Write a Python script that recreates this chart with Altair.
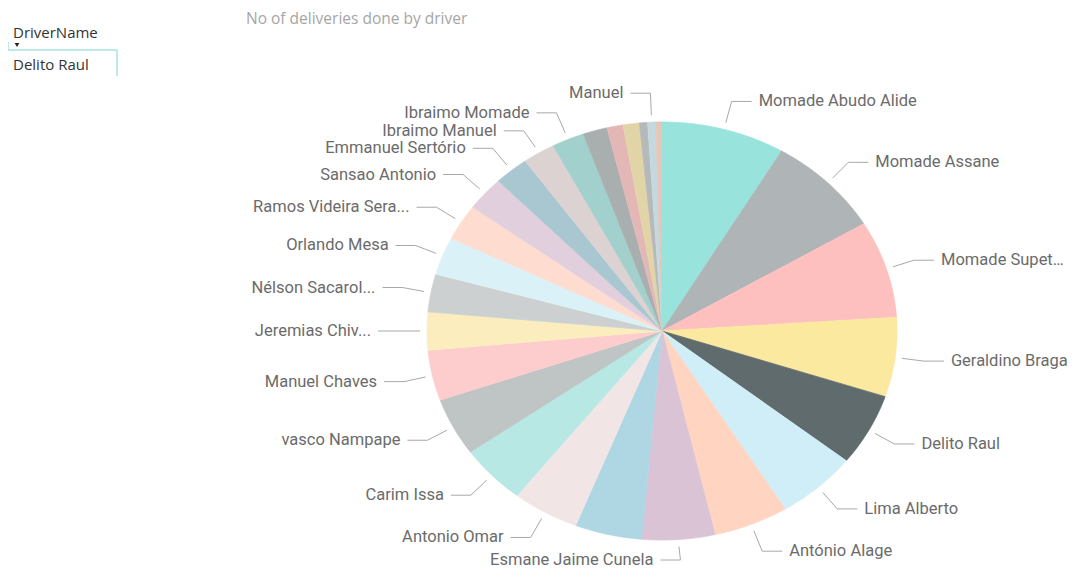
import altair as alt
import pandas as pd

# ---------------- data ----------------
drivers = [
    "Momade Abudo Alide", "Momade Assane", "Momade Supete I...", "Geraldino Braga",
    "Delito Raul", "Lima Alberto", "António Alage", "Esmane Jaime Cunela", "",
    "Antonio Omar", "Carim Issa", "vasco Nampape", "Manuel Chaves", "Jeremias Chiv...",
    "Nélson Sacarol...", "Orlando Mesa", "Ramos Videira Sera...", "Sansao Antonio",
    "Emmanuel Sertório", "Ibraimo Manuel", "Ibraimo Momade", "", "", "", "", "Manuel", "",
]
deliveries = [61, 57, 54, 44, 40, 40, 37, 36, 33, 33, 33, 32, 28, 21, 21, 21, 20, 19,
              17, 16, 16, 12, 8, 8, 4, 4, 3]
selected_driver = "Delito Raul"
chart_title = "No of deliveries done by driver"
slicer_field = "DriverName"

# ---------------- style ----------------
palette = ["#01B8AA", "#374649", "#FD625E", "#F2C80F", "#5F6B6D", "#8AD4EB", "#FE9666",
           "#A66999", "#3599B8", "#DFBFBF", "#4AC5BB", "#5F6B6D", "#FB8281", "#F4D25A",
           "#7F898A", "#A4DDEE", "#FDAB89", "#B687AC", "#28738A", "#A78F8F", "#168980",
           "#293537", "#BB4A4A", "#B59525", "#475052", "#6A9FB0", "#BD7150"]


def fade(h, a=0.4):
    rgb = [int(h[i:i + 2], 16) for i in (1, 3, 5)]
    return "#%02x%02x%02x" % tuple(round(a * c + (1 - a) * 255) for c in rgb)


fills = [c if d == selected_driver else fade(c) for d, c in zip(drivers, palette)]
idx = list(range(len(drivers)))

W, H = 1060, 562
CX, CY, RX, RY = 654, 323, 235, 209
NPTS = 60
LABEL_GAP = 18

df = pd.DataFrame({"idx": idx, "driver": drivers, "deliveries": deliveries})
one = pd.DataFrame({"k": [0]})

xs = alt.Scale(domain=[0, W], range=[0, W], zero=False, nice=False)
ys = alt.Scale(domain=[0, H], range=[0, H], zero=False, nice=False)


def base():
    return (
        alt.Chart(df)
        .transform_window(cum="sum(deliveries)", sort=[alt.SortField("idx")], frame=[None, 0])
        .transform_joinaggregate(total="sum(deliveries)")
        .transform_calculate(
            a0="2*PI*(datum.cum-datum.deliveries)/datum.total",
            a1="2*PI*datum.cum/datum.total",
        )
    )


cscale = alt.Scale(domain=idx, range=fills)

pie = (
    base()
    .transform_calculate(k=f"sequence(0, {NPTS + 2})")
    .transform_flatten(["k"])
    .transform_calculate(
        ang=f"datum.a0 + (datum.a1 - datum.a0) * (datum.k - 1) / {NPTS}",
    )
    .transform_calculate(
        px=f"datum.k == 0 ? {CX} : {CX} + {RX} * sin(datum.ang)",
        py=f"datum.k == 0 ? {CY} : {CY} - {RY} * cos(datum.ang)",
    )
    .mark_line(filled=True, strokeWidth=0.8, interpolate="linear")
    .encode(
        x=alt.X("px:Q", scale=xs, axis=None),
        y=alt.Y("py:Q", scale=ys, axis=None),
        order=alt.Order("k:Q"),
        detail="idx:N",
        color=alt.Color("idx:N", scale=cscale, legend=None),
        stroke=alt.Stroke("idx:N", scale=cscale, legend=None),
    )
)


def labels_base():
    return (
        base()
        .transform_filter("datum.driver != ''")
        .transform_calculate(mid="(datum.a0 + datum.a1) / 2")
        .transform_calculate(
            sx=f"{CX} + {RX + 7} * sin(datum.mid)",
            sy=f"{CY} - {RY + 7} * cos(datum.mid)",
            ex=f"{CX} + {RX + 29} * sin(datum.mid)",
            ey0=f"min({CY} - {RY + 29} * cos(datum.mid), {H - 10})",
            side="sin(datum.mid) > 0.1 ? 1 : -1",
        )
        .transform_window(prev="lag(ey0)", sort=[alt.SortField("ey0")], groupby=["side"])
        .transform_calculate(
            ey=f"datum.prev == null ? datum.ey0 : max(datum.ey0, datum.prev + {LABEL_GAP})"
        )
        .transform_calculate(hx="datum.ex + datum.side * 20")
        .transform_calculate(tx="datum.hx + datum.side * 7")
    )


line_color = "#a8a8a8"
lead1 = labels_base().mark_rule(color=line_color, strokeWidth=1).encode(
    x=alt.X("sx:Q", scale=xs, axis=None), y=alt.Y("sy:Q", scale=ys, axis=None),
    x2="ex:Q", y2="ey:Q",
)
lead2 = labels_base().mark_rule(color=line_color, strokeWidth=1).encode(
    x=alt.X("ex:Q", scale=xs, axis=None), y=alt.Y("ey:Q", scale=ys, axis=None),
    x2="hx:Q", y2="ey:Q",
)
label_font = dict(font="Roboto", fontSize=16.5, color="#6b6b6b", baseline="middle")
text_right = labels_base().transform_filter("datum.side > 0").mark_text(
    align="left", limit=alt.expr(f"{W} - datum.tx"), **label_font
).encode(
    x=alt.X("tx:Q", scale=xs, axis=None), y=alt.Y("ey:Q", scale=ys, axis=None), text="driver:N"
)
text_left = labels_base().transform_filter("datum.side < 0").mark_text(
    align="right", **label_font
).encode(
    x=alt.X("tx:Q", scale=xs, axis=None), y=alt.Y("ey:Q", scale=ys, axis=None), text="driver:N"
)

# title and slicer decorations (single-row data)
title = alt.Chart(one).mark_text(
    text=chart_title, font="Open Sans", fontSize=15.5, color="#a6a6a6", align="left", baseline="middle"
).encode(x=alt.value(238), y=alt.value(11))

slicer_head = alt.Chart(one).mark_text(
    text=slicer_field, font="Open Sans", fontSize=15, color="#333333", align="left", baseline="middle"
).encode(x=alt.value(5), y=alt.value(25))
slicer_val = alt.Chart(one).mark_text(
    text=selected_driver, font="Open Sans", fontSize=15, color="#333333", align="left", baseline="middle"
).encode(x=alt.value(5), y=alt.value(57))
slicer_color = "#a9e2df"
slicer_h = alt.Chart(one).mark_rule(color=slicer_color, strokeWidth=1.5).encode(
    x=alt.value(0), x2=alt.value(109), y=alt.value(42)
)
slicer_v = alt.Chart(one).mark_rule(color=slicer_color, strokeWidth=1.5).encode(
    x=alt.value(109), y=alt.value(42), y2=alt.value(68)
)
slicer_l = alt.Chart(one).mark_rule(color=slicer_color, strokeWidth=1.5).encode(
    x=alt.value(0), y=alt.value(34), y2=alt.value(42)
)
caret = alt.Chart(one).mark_point(shape="triangle-down", filled=True, size=22, color="#222222", opacity=1).encode(
    x=alt.value(9), y=alt.value(37)
)

chart = (
    alt.layer(pie, lead1, lead2, text_right, text_left, title, slicer_head, slicer_val,
              slicer_h, slicer_v, slicer_l, caret)
    .properties(width=W, height=H, padding=0, autosize="none", background="white")
    .configure_view(stroke=None)
)

chart.save("out.html", embed_options={"renderer": "svg", "actions": False})
